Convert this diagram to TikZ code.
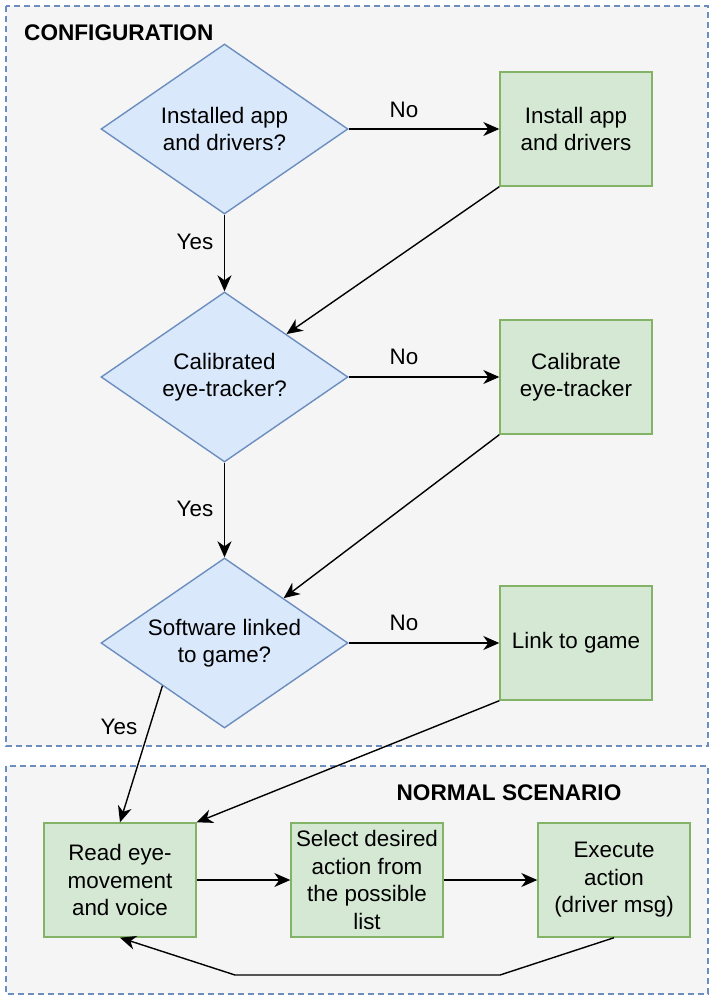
\documentclass[tikz,border=0pt]{standalone}
\usepackage{fontspec}
\setmainfont{Liberation Sans}
\usepackage{tikz}
\usetikzlibrary{shapes.geometric,arrows.meta}
\definecolor{decfill}{HTML}{DAE8FC}
\definecolor{decline}{HTML}{6C8EBF}
\definecolor{actfill}{HTML}{D5E8D4}
\definecolor{actline}{HTML}{82B366}
\definecolor{grpfill}{HTML}{F5F5F5}
\tikzset{
  dec/.style={diamond, draw=decline, fill=decfill, line width=1.4pt, inner sep=0pt,
    shape aspect=1.45, minimum width=247pt, minimum height=170pt, align=center},
  act/.style={rectangle, draw=actline, fill=actfill, line width=1.4pt, inner sep=0pt,
    minimum width=152pt, minimum height=114pt, align=center},
  grp/.style={draw=decline, fill=grpfill, line width=1.2pt, dash pattern=on 6pt off 4pt},
  grptitle/.style={font=\fontsize{22.6}{27}\selectfont\bfseries},
  lbl/.style={inner sep=0pt},
  flow/.style={line width=1.4pt, -{Stealth[length=16pt,width=14pt,inset=5pt]}}
}

\begin{document}
\begin{tikzpicture}[x=1pt,y=-1pt,font=\fontsize{22.4}{27.5}\selectfont]%pixel grid
\useasboundingbox (0,0) rectangle (714,1000);
\draw [grp] (6,6) rectangle (708,746);
\draw [grp] (6,766) rectangle (708,994);
\node [grptitle, anchor=west, inner sep=0pt] (cfg) at (24,33) {CONFIGURATION};
\node [grptitle, inner sep=0pt] (nrm) at (509,793) {NORMAL SCENARIO};

\node [dec] (d1) at (224.5,129) {Installed app\\and drivers?};
\node [act] (b1) at (576,129) {Install app\\and drivers};
\node [dec] (d2) at (224.5,377) {Calibrated\\eye-tracker?};
\node [act] (b2) at (576,377) {Calibrate\\eye-tracker};
\node [dec] (d3) at (224.5,643) {Software linked\\to game?};
\node [act] (b3) at (576,643) {Link to game};

\node [act] (ra) at (120,880) {Read eye-\\movement\\and voice};
\node [act] (sa) at (367,880) {Select desired\\action from\\the possible\\list};
\node [act] (ex) at (614,880) {Execute\\action\\(driver msg)};
\coordinate (k1) at (500,975);
\coordinate (k2) at (235,975);

\draw [flow] (d1) -- (b1);
\node [lbl] (no1) at (404,110) {No};
\draw [flow] (d1) -- (d2);
\node [lbl] (yes1) at (195,242) {Yes};
\draw [flow] (b1.south west) -- (d2);
\draw [flow] (d2) -- (b2);
\node [lbl] (no2) at (404,357) {No};
\draw [flow] (d2) -- (d3);
\node [lbl] (yes2) at (195,509) {Yes};
\draw [flow] (b2.south west) -- (d3);
\draw [flow] (d3) -- (b3);
\node [lbl] (no3) at (404,623) {No};
\draw [flow] (d3.south west) -- (ra.north);
\node [lbl] (yes3) at (119,727) {Yes};
\draw [flow] (b3.south west) -- (ra.north east);
\draw [flow] (ra) -- (sa);
\draw [flow] (sa) -- (ex);
\draw [flow] (ex.south) -- (k1) -- (k2) -- (ra.south);
\end{tikzpicture}
\end{document}
